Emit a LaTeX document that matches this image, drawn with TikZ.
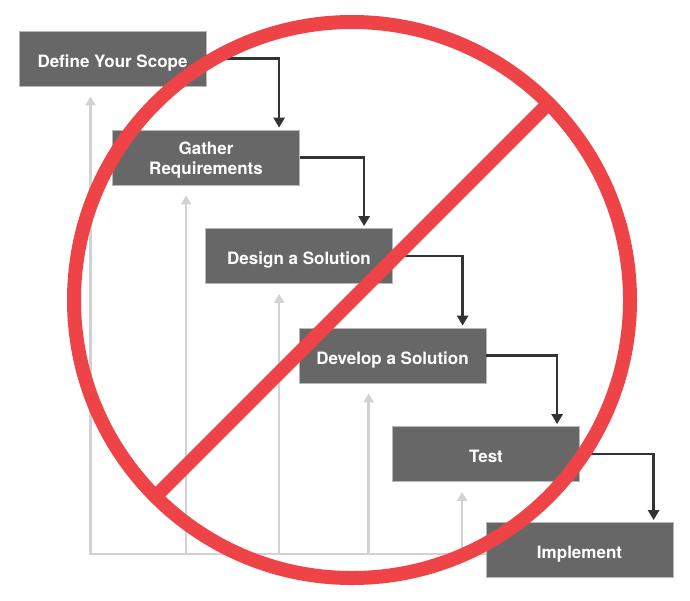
\documentclass[tikz,border=0pt]{standalone}
\usepackage{fontspec}
\setmainfont{TeX Gyre Heros}
\usetikzlibrary{arrows.meta,calc}
\definecolor{boxgray}{HTML}{676767}
\definecolor{boxedge}{HTML}{B8B8B8}
\definecolor{arrdark}{HTML}{333333}
\definecolor{fbgray}{HTML}{D2D2D2}
\definecolor{nored}{HTML}{EE4448}
\tikzset{
  stepbox/.style={fill=boxgray, draw=boxedge, line width=0.8pt, minimum width=187pt, minimum height=55pt, inner sep=0pt, text=white, align=center, font=\fontsize{17}{20}\selectfont\bfseries, text height=17pt, text depth=0pt},
  twoline/.style={text height=33pt, text depth=0pt},
  darr/.style={draw=arrdark, line width=2.5pt, -{Triangle[width=11pt,length=10pt]}, shorten >=2pt},
  garr/.style={draw=fbgray, line width=2.5pt, -{Triangle[width=10pt,length=9pt]}},
  redring/.style={draw=nored, line width=14pt}
}
\begin{document}
\begin{tikzpicture}[x=1pt,y=-1pt]
\useasboundingbox (0,0) rectangle (690,600);
% boxes
\node[stepbox] (b1) at (112.5,58.5) {Define Your Scope};
\node[stepbox,twoline] (b2) at (206,157.5) {Gather\\Requirements};
\node[stepbox] (b3) at (299,256) {Design a Solution};
\node[stepbox] (b4) at (392.5,355.5) {Develop a Solution};
\node[stepbox] (b5) at (486,454) {Test};
\node[stepbox] (b6) at (579.5,550) {Implement};
% feedback lines
\coordinate (base) at ([yshift=-4pt]b6.west);
\coordinate (g1) at ([xshift=72pt,yshift=-10pt]b1.south west);
\coordinate (g2) at ([xshift=74pt,yshift=-10pt]b2.south west);
\coordinate (g3) at ([xshift=74pt,yshift=-10pt]b3.south west);
\coordinate (g4) at ([xshift=70pt,yshift=-10pt]b4.south west);
\coordinate (g5) at ([xshift=70pt,yshift=-10pt]b5.south west);
\draw[garr] (base) -- (g1 |- base) -- (g1);
\draw[garr] (g2 |- base) -- (g2);
\draw[garr] (g3 |- base) -- (g3);
\draw[garr] (g4 |- base) -- (g4);
\draw[garr] (g5 |- base) -- (g5);
% forward arrows
\draw[darr] (b1.east) -| ([xshift=167pt]b2.north west);
\draw[darr] (b2.east) -| ([xshift=159pt]b3.north west);
\draw[darr] (b3.east) -| ([xshift=164pt]b4.north west);
\draw[darr] (b4.east) -| ([xshift=165pt]b5.north west);
\draw[darr] (b5.east) -| ([xshift=168pt]b6.north west);
% prohibition sign
\coordinate (c) at (352,300);
\draw[redring] (c) circle[radius=278pt];
\draw[redring] ($(c)+(-196,196)$) -- ($(c)+(196,-196)$);
\end{tikzpicture}
\end{document}
